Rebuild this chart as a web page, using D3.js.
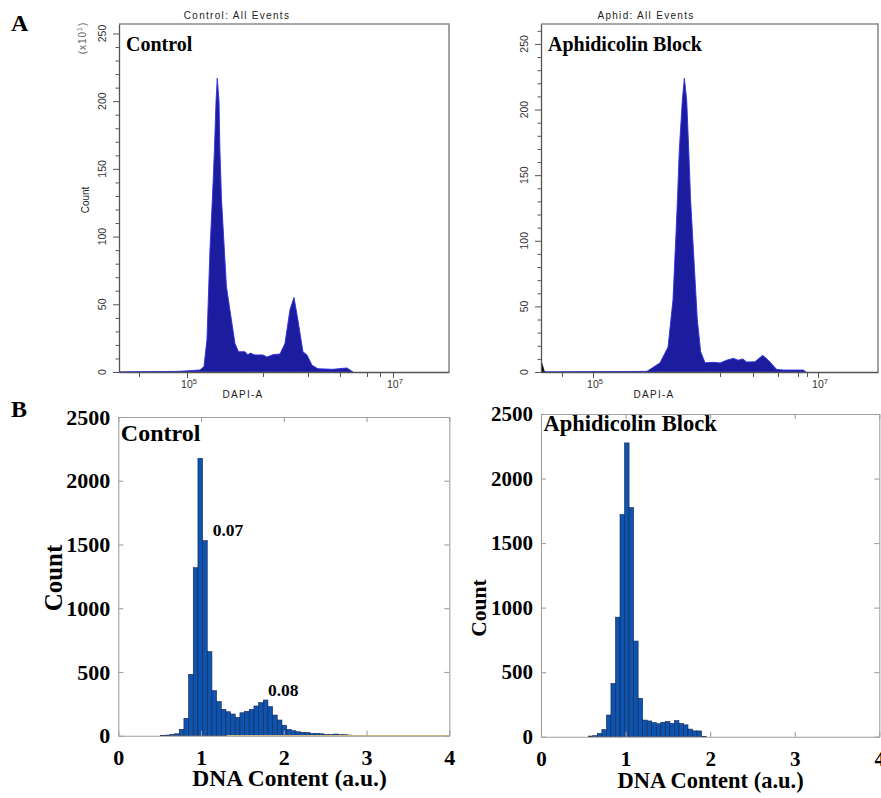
<!DOCTYPE html>
<html>
<head>
<meta charset="utf-8">
<script src="https://cdn.jsdelivr.net/npm/d3@7/dist/d3.min.js"></script>
<style>
body { margin: 0; background: #fff; }
.serif { font-family: "Liberation Serif", "Times New Roman", serif; font-weight: bold; }
.sans { font-family: "Liberation Sans", Arial, sans-serif; }
</style>
</head>
<body>
<svg id="fig" width="881" height="798"></svg>
<script>
// ---- panel A: flow cytometry traces (x = log10 DAPI-A, y = count / 10) ----
var ctrlFlowExp = [4.340, 4.932, 5.126, 5.165, 5.194, 5.223, 5.248, 5.267, 5.282, 5.294, 5.311, 5.320, 5.335,
  5.383, 5.466, 5.500, 5.563, 5.592, 5.612, 5.660, 5.738, 5.777, 5.835, 5.903, 5.951, 6.000, 6.039, 6.078,
  6.126, 6.165, 6.214, 6.272, 6.417, 6.553, 6.612];
var ctrlFlowCount = [0, 0.5, 1.5, 4, 24, 90, 130, 165, 200, 217, 200, 164, 128,
  63, 21, 15, 15, 12.6, 14, 12.6, 12.6, 11, 12.8, 13.3, 21, 46, 55, 38,
  15, 12.6, 5, 2.4, 2, 3, 0];

var aphFlowExp = [4.538, 5.480, 5.596, 5.667, 5.711, 5.738, 5.751, 5.767, 5.794, 5.812, 5.833, 5.851, 5.867,
  5.927, 5.957, 5.996, 6.069, 6.129, 6.188, 6.247, 6.292, 6.331, 6.366, 6.440, 6.508, 6.558, 6.633,
  6.692, 6.869, 6.893];
var aphFlowCount = [0, 0.5, 7, 19, 55, 106, 132, 169, 207, 224, 207, 169, 132,
  40, 15.5, 7, 7.4, 6.9, 9, 10.4, 9, 10, 7.6, 7.8, 12.7, 9, 2,
  1.5, 1.5, 0];
var aphDebrisExp = [4.538, 4.573];
var aphDebrisCount = [10, 0];

var flowYTicks = [0, 50, 100, 150, 200, 250];
var flowXTicks = [5, 7];

// ---- panel B: DNA content histograms ----
var ctrlBinStart = 0.511, ctrlBinWidth = 0.0564;
var ctrlCounts = [2, 5, 10, 15, 50, 136, 481, 1318, 2176, 1530, 659, 353, 267, 207, 188, 170, 144, 180, 191,
  207, 233, 259, 280, 228, 162, 123, 82, 50, 39, 31, 26, 24, 18, 18, 15, 10, 10, 13, 8, 8, 5];
var ctrlZeroRange = [1.31, 4];

var aphBinStart = 0.559, aphBinWidth = 0.0536;
var aphCounts = [5, 8, 25, 55, 168, 413, 926, 1721, 2276, 1775, 741, 297, 129, 122, 110, 100, 112, 118, 103,
  124, 103, 92, 59, 45, 45, 3];

var ctrlNotes = [{ t: "0.07", x: 1.14, y: 1567 }, { t: "0.08", x: 1.809, y: 311 }];

var histXTicks = [0, 1, 2, 3, 4];
var histYTicks = [0, 500, 1000, 1500, 2000, 2500];

var svg = d3.select("#fig");

function flowPanel(p) {
  var x = d3.scaleLog().domain([Math.pow(10, p.xExp[0]), Math.pow(10, p.xExp[1])]).range([p.left, p.right]);
  var y = d3.scaleLinear().domain([0, p.yMax]).range([p.bottom, p.top]);
  var g = svg.append("g");

  var area = d3.area()
    .x(function(d) { return x(Math.pow(10, d[0])); })
    .y0(y(0))
    .y1(function(d) { return y(d[1]); });

  g.append("path")
    .datum(d3.zip(p.exps, p.counts))
    .attr("d", area)
    .attr("fill", "#1c1c9e")
    .attr("stroke", "#2f2fe0")
    .attr("stroke-width", 0.9);

  if (p.debrisExp) {
    g.append("path")
      .datum(d3.zip(p.debrisExp, p.debrisCount))
      .attr("d", area)
      .attr("fill", "#111");
  }

  // top + right frame
  g.append("path")
    .attr("d", "M" + p.left + "," + p.top + "H" + p.right + "V" + p.bottom)
    .attr("fill", "none").attr("stroke", "#8c8c8c").attr("stroke-width", 1.6);

  var yMinor = d3.range(0, p.yMax, 10).filter(function(v) { return v % 50 != 0; });

  g.append("g").attr("transform", "translate(" + p.left + ",0)")
    .call(d3.axisLeft(y).tickValues(flowYTicks).tickSize(6).tickSizeOuter(0).tickFormat(""));
  g.append("g").attr("transform", "translate(" + p.left + ",0)")
    .call(d3.axisLeft(y).tickValues(yMinor).tickSize(3.5).tickSizeOuter(0).tickFormat(""))
    .select(".domain").remove();

  g.append("g").attr("transform", "translate(0," + p.bottom + ")")
    .call(d3.axisBottom(x).tickValues(flowXTicks.map(function(e) { return Math.pow(10, e); }))
      .tickSize(6).tickSizeOuter(0).tickFormat(""));
  g.append("g").attr("transform", "translate(0," + p.bottom + ")")
    .call(d3.axisBottom(x).tickValues(p.xMinor.map(function(e) { return Math.pow(10, e); }))
      .tickSize(5).tickSizeOuter(0).tickFormat(""))
    .select(".domain").remove();

  g.selectAll(".domain").attr("stroke", "#555").attr("stroke-width", 1.3);
  g.selectAll(".tick line").attr("stroke", "#555");

  // y tick labels (rotated)
  g.selectAll(".ylab").data(flowYTicks).enter().append("text")
    .attr("class", "sans")
    .attr("transform", function(d) { return "translate(" + (p.left - 13) + "," + y(d) + ") rotate(-90)"; })
    .attr("text-anchor", "middle")
    .attr("font-size", 10.5)
    .attr("fill", "#333")
    .text(function(d) { return d; });

  // x tick labels 10^n
  g.selectAll(".xlab").data(flowXTicks).enter().append("text")
    .attr("class", "sans")
    .attr("x", function(d) { return x(Math.pow(10, d)) + 2; })
    .attr("y", p.bottom + 16)
    .attr("text-anchor", "middle")
    .attr("font-size", 10.5)
    .attr("fill", "#333")
    .each(function(d) {
      var t = d3.select(this);
      t.append("tspan").text("10");
      t.append("tspan").attr("dy", -4.5).attr("font-size", 7.5).text(d);
    });

  svg.append("text").attr("class", "sans")
    .attr("x", p.xLabelX).attr("y", p.bottom + 26)
    .attr("text-anchor", "middle").attr("font-size", 10).attr("letter-spacing", 1.3)
    .attr("fill", "#222").text("DAPI-A");

  svg.append("text").attr("class", "sans")
    .attr("x", p.headerX).attr("y", 19)
    .attr("text-anchor", "middle").attr("font-size", 10).attr("letter-spacing", 1.3)
    .attr("fill", "#222").text(p.header);

  svg.append("text").attr("class", "serif")
    .attr("x", p.left + 7).attr("y", 51)
    .attr("font-size", 20).text(p.title);

  if (p.countLabel) {
    svg.append("text").attr("class", "sans")
      .attr("transform", "translate(" + (p.left - 30) + ",200) rotate(-90)")
      .attr("text-anchor", "middle").attr("font-size", 10).attr("fill", "#222").text("Count");
    var m = svg.append("text").attr("class", "sans")
      .attr("transform", "translate(" + (p.left - 33) + ",38) rotate(-90)")
      .attr("text-anchor", "middle").attr("font-size", 10).attr("fill", "#666").attr("letter-spacing", 1);
    m.append("tspan").text("(x10");
    m.append("tspan").attr("dy", -4).attr("font-size", 7).text("1");
    m.append("tspan").attr("dy", 4).text(")");
  }
}

function histPanel(p) {
  var x = d3.scaleLinear().domain([0, 4]).range([p.left, p.right]);
  var y = d3.scaleLinear().domain([0, 2500]).range([p.bottom, p.top]);
  var g = svg.append("g");
  var fmt = d3.format("d");

  g.selectAll("rect").data(p.counts).enter().append("rect")
    .attr("x", function(d, i) { return x(p.start + i * p.width); })
    .attr("width", function(d, i) { return x(p.start + (i + 1) * p.width) - x(p.start + i * p.width); })
    .attr("y", function(d) { return y(d); })
    .attr("height", function(d) { return y(0) - y(d); })
    .attr("fill", "#0c54b0")
    .attr("stroke", "#1a2550")
    .attr("stroke-width", 0.6);

  if (p.zeroRange) {
    g.append("line")
      .attr("x1", x(p.zeroRange[0])).attr("x2", x(p.zeroRange[1]))
      .attr("y1", y(0)).attr("y2", y(0))
      .attr("stroke", "#d9bd7c").attr("stroke-width", 1.5);
  }

  var axes = [
    g.append("g").attr("transform", "translate(0," + p.bottom + ")")
      .call(d3.axisBottom(x).tickValues(histXTicks).tickSize(-5).tickSizeOuter(0).tickPadding(14).tickFormat(fmt)),
    g.append("g").attr("transform", "translate(0," + p.top + ")")
      .call(d3.axisTop(x).tickValues(histXTicks).tickSize(-5).tickSizeOuter(0).tickFormat("")),
    g.append("g").attr("transform", "translate(" + p.left + ",0)")
      .call(d3.axisLeft(y).tickValues(histYTicks).tickSize(-5).tickSizeOuter(0).tickPadding(8).tickFormat(fmt)),
    g.append("g").attr("transform", "translate(" + p.right + ",0)")
      .call(d3.axisRight(y).tickValues(histYTicks).tickSize(-5).tickSizeOuter(0).tickFormat(""))
  ];
  axes.forEach(function(a) {
    a.attr("font-family", "'Liberation Serif', 'Times New Roman', serif")
      .attr("font-size", p.tickFont).attr("font-weight", "bold");
    a.selectAll("path, line").attr("stroke", "#a0a0a0").attr("stroke-width", 1.1);
    a.selectAll("text").attr("fill", "#000");
  });

  svg.append("text").attr("class", "serif")
    .attr("transform", "translate(" + p.countX + "," + p.countY + ") rotate(-90)")
    .attr("text-anchor", "middle").attr("dy", "0.35em")
    .attr("font-size", p.countFont).text("Count");

  svg.append("text").attr("class", "serif")
    .attr("x", (p.left + p.right) / 2 + p.xLabelShift).attr("y", p.xLabelY)
    .attr("text-anchor", "middle").attr("font-size", p.xLabelFont).text("DNA Content (a.u.)");

  svg.append("text").attr("class", "serif")
    .attr("x", p.left + 2.5).attr("y", p.titleY)
    .attr("font-size", p.titleFont).text(p.title);

  if (p.notes) {
    g.selectAll(".note").data(p.notes).enter().append("text")
      .attr("class", "serif")
      .attr("x", function(d) { return x(d.x); })
      .attr("y", function(d) { return y(d.y); })
      .attr("font-size", 17.5)
      .text(function(d) { return d.t; });
  }
}

flowPanel({
  left: 119, right: 449, top: 24, bottom: 372, yMax: 257,
  xExp: [4.340, 7.544], xMinor: [4.534, 5.738, 6.175, 6.485, 6.748, 6.874],
  exps: ctrlFlowExp, counts: ctrlFlowCount,
  title: "Control", header: "Control: All Events", headerX: 237, xLabelX: 243, countLabel: true
});

flowPanel({
  left: 541, right: 878, top: 24, bottom: 372, yMax: 265.2,
  xExp: [4.538, 7.533], xMinor: [4.724, 6.129, 6.422, 6.644, 6.822, 6.902],
  exps: aphFlowExp, counts: aphFlowCount, debrisExp: aphDebrisExp, debrisCount: aphDebrisCount,
  title: "Aphidicolin Block", header: "Aphid: All Events", headerX: 646, xLabelX: 654, countLabel: false
});

histPanel({
  left: 118.3, right: 449.3, top: 417, bottom: 735.7,
  start: ctrlBinStart, width: ctrlBinWidth, counts: ctrlCounts, zeroRange: ctrlZeroRange, notes: ctrlNotes,
  tickFont: 22, countFont: 25, countX: 53, countY: 578,
  xLabelFont: 23.5, xLabelY: 786, xLabelShift: 5.7,
  title: "Control", titleFont: 24, titleY: 441
});

histPanel({
  left: 541, right: 879.3, top: 414, bottom: 736.7,
  start: aphBinStart, width: aphBinWidth, counts: aphCounts,
  tickFont: 21, countFont: 21.5, countX: 478, countY: 608,
  xLabelFont: 22.5, xLabelY: 788, xLabelShift: 0.4,
  title: "Aphidicolin Block", titleFont: 22.5, titleY: 431
});

svg.append("text").attr("class", "serif").attr("x", 11).attr("y", 31).attr("font-size", 24).text("A");
svg.append("text").attr("class", "serif").attr("x", 11).attr("y", 417).attr("font-size", 24).text("B");
</script>
</body>
</html>
